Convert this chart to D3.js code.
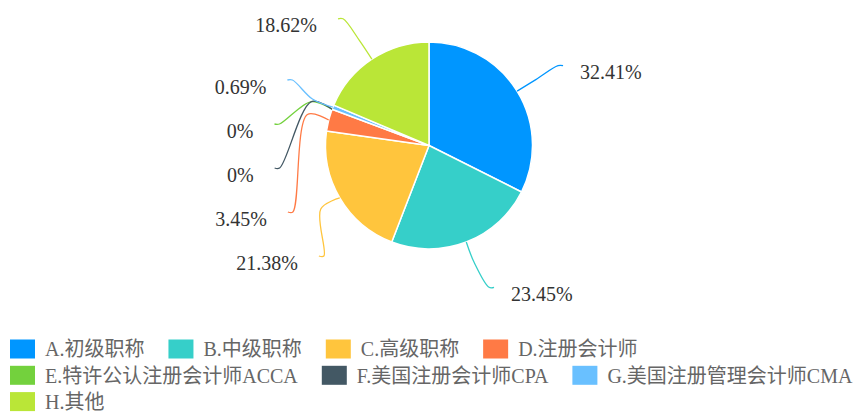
<!DOCTYPE html>
<html>
<head>
<meta charset="utf-8">
<script src="https://cdn.jsdelivr.net/npm/d3@7/dist/d3.min.js"></script>
<style>
  html, body { margin: 0; padding: 0; background: #fff; }
  svg { display: block; }
  text { font-family: "Liberation Serif", "Times New Roman", Tinos, "DejaVu Serif", "Noto Sans CJK SC", serif; }
</style>
</head>
<body>
<svg id="chart" width="865" height="412"></svg>
<script>
// ---- data ----
const categories = [
  "A.初级职称", "B.中级职称", "C.高级职称", "D.注册会计师",
  "E.特许公认注册会计师ACCA", "F.美国注册会计师CPA",
  "G.美国注册管理会计师CMA", "H.其他"
];
const percentages = [32.41, 23.45, 21.38, 3.45, 0, 0, 0.69, 18.62];
const percentLabels = ["32.41%", "23.45%", "21.38%", "3.45%", "0%", "0%", "0.69%", "18.62%"];
const colors = ["#0096FF", "#36CFC9", "#FFC53D", "#FF7A45", "#73D13D", "#435864", "#69C0FF", "#BAE637"];

// ---- layout ----
const W = 865, H = 412;
const cx = 429, cy = 145.5, r = 103.5;
const len1 = 22;          // first label-line segment
const ringX = 156, ringY = 152;
const gap = 44;           // min vertical distance between labels
const fontSize = 20;

const svg = d3.select("#chart");
const data = categories.map((c, i) => ({ name: c, value: percentages[i], label: percentLabels[i], color: colors[i], i }));

const pie = d3.pie().sort(null).value(d => d.value).startAngle(0).endAngle(2 * Math.PI);
const arcs = pie(data);
const arc = d3.arc().innerRadius(0).outerRadius(r);

const g = svg.append("g").attr("transform", `translate(${cx},${cy})`);
g.selectAll("path.slice").data(arcs.filter(a => a.value > 0)).join("path")
  .attr("class", "slice")
  .attr("d", arc)
  .attr("fill", d => d.data.color)
  .attr("stroke", "#fff")
  .attr("stroke-width", 1.5)
  .attr("stroke-linejoin", "round");

// label layout
const pt = (a, R) => [Math.sin(a) * R, -Math.cos(a) * R];
const items = arcs.map(a => {
  const mid = (a.startAngle + a.endAngle) / 2;
  const dir = Math.sin(mid) > 0 ? 1 : -1;
  return { a, mid, dir, y: -Math.cos(mid) * ringY, y0: -Math.cos(mid) * ringY };
});
[1, -1].forEach(dir => {
  const side = items.filter(d => d.dir === dir).sort((p, q) => p.y0 - q.y0);
  for (let k = 1; k < side.length; k++) {
    side[k].y = Math.max(side[k].y0, side[k - 1].y + gap);
  }
  const last = side[side.length - 1];
  const bound = r + 7;
  if (last && last.y > last.y0 + 0.01 && last.y > bound) {
    last.y = bound;
    for (let k = side.length - 2; k >= 0; k--) {
      side[k].y = Math.min(side[k].y, side[k + 1].y - gap);
    }
  }
});
items.forEach(d => {
  const dy = d.y;
  d.x = d.dir * Math.sqrt(Math.max(0, ringX * ringX - dy * dy));
});

const line = d3.line().curve(d3.curveCatmullRom.alpha(0.5));
const lg = svg.append("g").attr("transform", `translate(${cx},${cy})`);
items.forEach(d => {
  const p0 = pt(d.mid, r);
  const p1 = pt(d.mid, r + len1);
  const p3 = [d.x, d.y];
  const p2 = [d.x - d.dir * 5, d.y];
  lg.append("path")
    .attr("d", line([p0, p1, p2, p3]))
    .attr("fill", "none")
    .attr("stroke", d.a.data.color)
    .attr("stroke-width", 1.3);
  lg.append("text")
    .attr("x", d.x + d.dir * (d.dir > 0 ? 17 : 21))
    .attr("y", d.y + 6.5)
    .attr("dy", "0.35em")
    .attr("text-anchor", d.dir > 0 ? "start" : "end")
    .attr("font-size", fontSize)
    .attr("fill", "#333")
    .text(d.a.data.label);
});

// legend
const legend = svg.append("g");
const sw = 25, sh = 19, textGap = 10, itemGap = 24, rowH = 26.3;
let lx = 10, ly = 339.5;
data.forEach(d => {
  const it = legend.append("g");
  const t = it.append("text")
    .attr("font-size", fontSize)
    .attr("fill", "#666")
    .text(d.name);
  const tw = t.node().getComputedTextLength();
  const wItem = sw + textGap + tw;
  if (lx > 10 && lx + wItem > W - 2) { lx = 10; ly += rowH; }
  it.append("rect").attr("x", lx).attr("y", ly).attr("width", sw).attr("height", sh).attr("fill", d.color);
  t.attr("x", lx + sw + textGap).attr("y", ly + sh / 2).attr("dy", "0.36em");
  lx += wItem + itemGap;
});
</script>
</body>
</html>
